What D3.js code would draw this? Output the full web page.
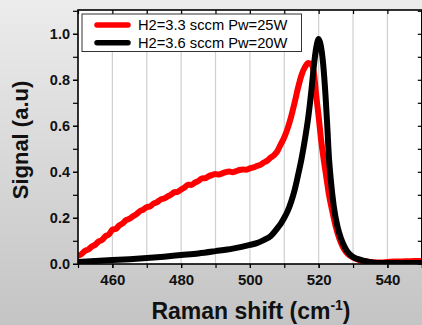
<!DOCTYPE html>
<html>
<head>
<meta charset="utf-8">
<script src="https://cdn.jsdelivr.net/npm/d3@7"></script>
<style>
html,body{margin:0;padding:0;overflow:hidden;}
svg{display:block;}
</style>
</head>
<body>
<svg id="chart" width="422" height="325"></svg>
<script>
// ---- data ----
const seriesNames = ["H2=3.3 sccm Pw=25W", "H2=3.6 sccm Pw=20W"];
const seriesColors = ["#ff0000", "#000000"];
const redShift = [450,451,452,453,454,455,456,457,458,459,460,461,462,463,464,465,466,467,468,469,470,471,472,473,474,475,476,477,478,479,480,481,482,483,484,485,486,487,488,489,490,491,492,493,494,495,496,497,498,499,500,501,502,503,504,505,506,507,508,509,510,511,512,513,514,515,516,517,518,518.7,519.3,520,520.7,521.5,522.3,523,524,525,526,527,528,530,532,534,536,538,540,542,544,546,548,550];
const redSignal = [0.035,0.042,0.056,0.062,0.075,0.083,0.097,0.104,0.12,0.128,0.148,0.152,0.167,0.176,0.19,0.196,0.207,0.216,0.229,0.236,0.246,0.25,0.262,0.268,0.279,0.284,0.292,0.3,0.311,0.313,0.323,0.332,0.344,0.343,0.353,0.36,0.371,0.372,0.381,0.386,0.39,0.388,0.393,0.399,0.401,0.398,0.403,0.408,0.41,0.409,0.415,0.419,0.425,0.43,0.44,0.448,0.462,0.472,0.49,0.52,0.55,0.59,0.64,0.70,0.765,0.82,0.855,0.873,0.865,0.82,0.73,0.64,0.54,0.45,0.37,0.30,0.226,0.16,0.11,0.075,0.05,0.028,0.015,0.01,0.007,0.006,0.008,0.01,0.01,0.011,0.012,0.012];
const blackShift = [450,455,460,465,470,475,480,485,490,495,500,502,504,506,508,509,510,511,512,513,514,515,516,517,518,518.6,519.3,520,520.6,521.3,522,522.5,523,523.5,524.4,525.5,526.5,527.5,528.5,530,532,534,536,538,540,545,550];
const blackSignal = [0.008,0.012,0.016,0.02,0.025,0.031,0.038,0.045,0.055,0.066,0.082,0.09,0.103,0.12,0.155,0.175,0.2,0.23,0.27,0.32,0.385,0.455,0.54,0.64,0.77,0.86,0.94,0.977,0.95,0.87,0.73,0.6,0.46,0.37,0.25,0.16,0.11,0.075,0.05,0.03,0.018,0.01,0.005,0.003,0.003,0.003,0.004];
const xTicks = [460,480,500,520,540];
const yTicks = [0.0,0.2,0.4,0.6,0.8,1.0];
const xLabel = "Raman shift (cm";
const xLabelSup = "-1";
const yLabel = "Signal (a.u)";

// ---- layout ----
const svg = d3.select("#chart");
const W = 422, H = 325;
const pLeft = 78, pRight = 421.8, pTop = 10, pBottom = 264;
const FONT = "Liberation Sans, Arial, sans-serif";

const defs = svg.append("defs");
const grad = defs.append("linearGradient").attr("id","bg").attr("x1",0).attr("y1",0).attr("x2",0).attr("y2",1);
grad.append("stop").attr("offset","0%").attr("stop-color","#ececec");
grad.append("stop").attr("offset","100%").attr("stop-color","#c4c4c4");
svg.append("rect").attr("width",W).attr("height",H).attr("fill","url(#bg)");

const x = d3.scaleLinear().domain([450,550]).range([pLeft,pRight]);
const y = d3.scaleLinear().domain([0,1.1]).range([263.8,10.8]);

defs.append("clipPath").attr("id","clip").append("rect")
  .attr("x",pLeft).attr("y",pTop).attr("width",pRight-pLeft).attr("height",pBottom-pTop);

svg.append("rect").attr("x",pLeft).attr("y",pTop).attr("width",pRight-pLeft).attr("height",pBottom-pTop).attr("fill","#fff");

// grid
const gridVals = d3.range(460,550,10);
svg.append("g").selectAll("line").data(gridVals).join("line")
  .attr("x1",d=>x(d)).attr("x2",d=>x(d)).attr("y1",pTop).attr("y2",pBottom)
  .attr("stroke","#cfcfcf").attr("stroke-width",1.2);

// curves
const line = d3.line().x(d=>x(d[0])).y(d=>y(d[1])).curve(d3.curveMonotoneX);
const gCurves = svg.append("g").attr("clip-path","url(#clip)");
const data = [d3.zip(redShift, redSignal), d3.zip(blackShift, blackSignal)];
data.forEach((pts,i)=>{
  gCurves.append("path").datum(pts).attr("d",line)
    .attr("fill","none").attr("stroke",seriesColors[i]).attr("stroke-width",6)
    .attr("stroke-linejoin","round").attr("stroke-linecap","round");
});

// axes
const minorX = d3.range(450,551,10);
const minorY = d3.range(0,1.101,0.1);
const gx = svg.append("g").attr("transform",`translate(0,${pBottom})`)
  .call(d3.axisBottom(x).tickValues(minorX).tickSize(4).tickFormat(""));
gx.select(".domain").remove();
const gxl = svg.append("g").attr("transform",`translate(0,${pBottom})`)
  .call(d3.axisBottom(x).tickValues(xTicks).tickSize(4).tickPadding(6).tickFormat(d3.format("d")));
gxl.select(".domain").remove();
gxl.selectAll("text").attr("font-family",FONT).attr("font-weight","bold").attr("font-size","15px").attr("fill","#111");

const gxt = svg.append("g").attr("transform",`translate(0,${pTop})`)
  .call(d3.axisBottom(x).tickValues(minorX).tickSize(4).tickFormat(""));
gxt.select(".domain").remove();

const gy = svg.append("g").attr("transform",`translate(${pLeft},0)`)
  .call(d3.axisLeft(y).tickValues(minorY).tickSize(5).tickFormat(""));
gy.select(".domain").remove();
const gyl = svg.append("g").attr("transform",`translate(${pLeft},0)`)
  .call(d3.axisLeft(y).tickValues(yTicks).tickSize(5).tickPadding(3).tickFormat(d3.format(".1f")));
gyl.select(".domain").remove();
gyl.selectAll("text").attr("font-family",FONT).attr("font-weight","bold").attr("font-size","14.5px").attr("fill","#111");

const gyr = svg.append("g").attr("transform",`translate(${pRight},0)`)
  .call(d3.axisLeft(y).tickValues(minorY).tickSize(4).tickFormat(""));
gyr.select(".domain").remove();

svg.selectAll(".tick line").attr("stroke","#000").attr("stroke-width",1.2);

// frame
svg.append("rect").attr("x",pLeft).attr("y",pTop).attr("width",pRight-pLeft).attr("height",pBottom-pTop)
  .attr("fill","none").attr("stroke","#000").attr("stroke-width",1.6);

// legend
const lg = svg.append("g");
lg.append("rect").attr("x",82).attr("y",14).attr("width",219.5).attr("height",37.5)
  .attr("fill","#fff").attr("stroke","#333").attr("stroke-width",1);
seriesNames.forEach((name,i)=>{
  const yy = 25 + i*17.7;
  lg.append("line").attr("x1",97).attr("x2",128).attr("y1",yy).attr("y2",yy)
    .attr("stroke",seriesColors[i]).attr("stroke-width",5.5).attr("stroke-linecap","round");
  lg.append("text").attr("x",138).attr("y",yy+5).text(name)
    .attr("font-family",FONT).attr("font-size","14.7px").attr("fill","#000");
});

// axis titles
const xt = svg.append("text").attr("x",251).attr("y",319).attr("text-anchor","middle")
  .attr("font-family",FONT).attr("font-weight","bold").attr("font-size","23px").attr("fill","#111");
xt.append("tspan").text(xLabel);
xt.append("tspan").text(xLabelSup).attr("font-size","14px").attr("dy","-9");
xt.append("tspan").text(")").attr("dy","9");

svg.append("text").attr("transform","translate(28,140) rotate(-90)").attr("text-anchor","middle")
  .attr("font-family",FONT).attr("font-weight","bold").attr("font-size","22px").attr("fill","#111")
  .text(yLabel);
</script>
</body>
</html>
